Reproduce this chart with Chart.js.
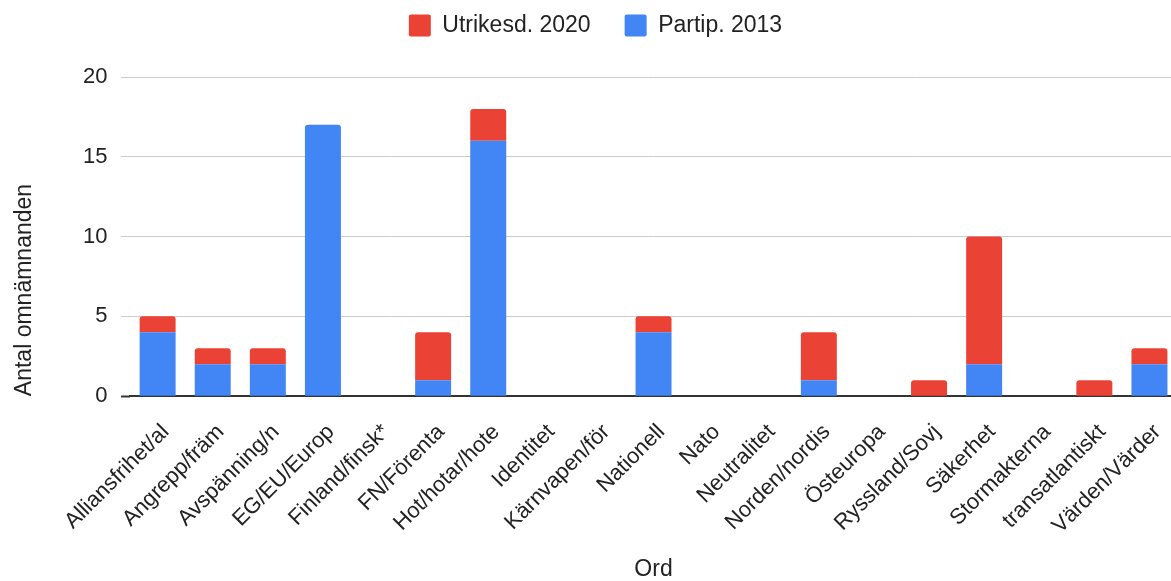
<!DOCTYPE html>
<html>
<head>
<meta charset="utf-8">
<script src="https://cdn.jsdelivr.net/npm/chart.js@4"></script>
<style>
html,body{margin:0;padding:0;background:#fff;overflow:hidden;}
#wrap{position:relative;width:1177px;height:581px;}
</style>
</head>
<body>
<div id="wrap"><canvas id="c"></canvas></div>
<script>
const categories = ["Alliansfrihet/al","Angrepp/främ","Avspänning/n","EG/EU/Europ","Finland/finsk*","FN/Förenta","Hot/hotar/hote","Identitet","Kärnvapen/för","Nationell","Nato","Neutralitet","Norden/nordis","Östeuropa","Ryssland/Sovj","Säkerhet","Stormakterna","transatlantiskt","Värden/Värder"];
const partip2013 = [4,2,2,17,0,1,16,0,0,4,0,0,1,0,0,2,0,0,2];
const utrikesd2020 = [1,1,1,0,0,3,2,0,0,1,0,0,3,0,1,8,0,1,1];
const yTicks = [0,5,10,15,20];

const FONT = "'Liberation Sans', Arial, sans-serif";
Chart.defaults.font.family = FONT;
Chart.defaults.color = '#222';

const legendSpace = {
  id: 'legendSpace',
  beforeInit(chart) {
    const lg = chart.legend;
    if (!lg) return;
    const orig = lg.fit;
    lg.fit = function () {
      orig.call(this);
      this.height = 97;
    };
  },
  afterLayout(chart) {
    const lg = chart.legend;
    if (!lg) return;
    lg.left += 7;
    lg.right += 7;
  }
};

new Chart(document.getElementById('c'), {
  type: 'bar',
  data: {
    labels: categories,
    datasets: [
      {
        label: 'Partip. 2013',
        data: partip2013,
        backgroundColor: '#4285F4',
        borderRadius: (ctx) => {
          const i = ctx.dataIndex;
          return (utrikesd2020[i] === 0) ? {topLeft: 3, topRight: 3, bottomLeft: 0, bottomRight: 0} : 0;
        },
        borderSkipped: false,
        categoryPercentage: 1,
        barPercentage: 0.653
      },
      {
        label: 'Utrikesd. 2020',
        data: utrikesd2020,
        backgroundColor: '#EA4335',
        borderRadius: {topLeft: 3, topRight: 3, bottomLeft: 0, bottomRight: 0},
        borderSkipped: false,
        categoryPercentage: 1,
        barPercentage: 0.653
      }
    ]
  },
  plugins: [legendSpace],
  options: {
    responsive: true,
    maintainAspectRatio: false,
    animation: false,
    layout: {padding: {left: 0, right: 0, top: -20, bottom: 0}},
    plugins: {
      legend: {
        position: 'top',
        reverse: true,
        labels: {
          boxWidth: 22,
          boxHeight: 22,
          padding: 34,
          font: {size: 23},
          color: '#222',
          useBorderRadius: true,
          borderRadius: 2
        }
      },
      tooltip: {enabled: false}
    },
    scales: {
      x: {
        stacked: true,
        grid: {
          display: true,
          drawOnChartArea: false,
          drawTicks: true,
          tickLength: 19,
          tickColor: 'rgba(0,0,0,0)',
          color: 'rgba(0,0,0,0)'
        },
        border: {display: true, color: '#333', width: 2},
        ticks: {
          autoSkip: false,
          minRotation: 45,
          maxRotation: 45,
          font: {size: 22},
          color: '#222',
          padding: 4,
          labelOffset: 8
        },
        title: {
          display: true,
          text: 'Ord',
          font: {size: 23, lineHeight: 1},
          color: '#222',
          padding: {top: 15, bottom: 0}
        }
      },
      y: {
        stacked: true,
        min: 0,
        max: 20,
        afterBuildTicks: (axis) => { axis.ticks = yTicks.map(v => ({value: v})); },
        grid: {
          color: (ctx) => ctx.tick && ctx.tick.value === 0 ? 'rgba(0,0,0,0)' : '#cccccc',
          tickColor: (ctx) => ctx.tick && ctx.tick.value === 0 ? '#333333' : '#cccccc',
          tickWidth: (ctx) => ctx.tick && ctx.tick.value === 0 ? 2 : 1,
          lineWidth: 1,
          drawTicks: true,
          tickLength: 9
        },
        border: {display: false},
        ticks: {
          font: {size: 22},
          color: '#222',
          padding: 13.5
        },
        title: {
          display: true,
          text: 'Antal omnämnanden',
          align: 'start',
          font: {size: 23, lineHeight: 1.2},
          color: '#222',
          padding: {top: 11, bottom: 31}
        }
      }
    }
  }
});
</script>
</body>
</html>
